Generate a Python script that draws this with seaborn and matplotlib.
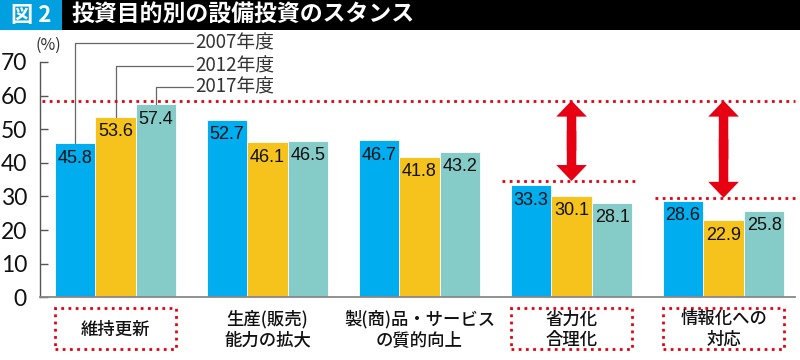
import matplotlib
matplotlib.use("Agg")
import matplotlib.pyplot as plt
from matplotlib.patches import Rectangle, FancyArrowPatch
import matplotlib.transforms as mtrans
import seaborn as sns
import pandas as pd

# ---------------- data ----------------
categories = ['維持更新', '生産(販売)\n能力の拡大', '製(商)品・サービス\nの質的向上', '省力化\n合理化', '情報化への\n対応']
years = ['2007年度', '2012年度', '2017年度']
values_2007 = [45.8, 52.7, 46.7, 33.3, 28.6]
values_2012 = [53.6, 46.1, 41.8, 30.1, 22.9]
values_2017 = [57.4, 46.5, 43.2, 28.1, 25.8]
y_ticks = [0, 10, 20, 30, 40, 50, 60, 70]
title = '投資目的別の設備投資のスタンス'
fig_label = '図 2'
boxed_categories = [0, 3, 4]
top_level = 58.5          # upper red dotted reference level
gap_levels = [34.6, 29.6]  # lower red dotted reference levels (for cats 3, 4)
gap_categories = [3, 4]
legend_levels = [75.7, 68.8, 62.6]

colors = ['#00AEEF', '#F6C21C', '#85CBC8']
red = '#E60012'

rows = []
for yr, vals in zip(years, [values_2007, values_2012, values_2017]):
    for c, v in zip(categories, vals):
        rows.append({'category': c, 'year': yr, 'value': v})
df = pd.DataFrame(rows)

sns.set_style('ticks')
plt.rcParams['font.family'] = ['Noto Sans CJK JP', 'DejaVu Sans']

W, H = 800, 360
fig = plt.figure(figsize=(8, 3.6), dpi=100)
ax_left, ax_right = 39.5, 795.0
ax_bottom, ax_top = 297.3, 62.0
ax = fig.add_axes([ax_left / W, (H - ax_bottom) / H, (ax_right - ax_left) / W, (ax_bottom - ax_top) / H])

sns.barplot(data=df, x='category', y='value', hue='year', order=categories, hue_order=years,
            palette=colors, saturation=1, width=0.8, edgecolor='white', linewidth=0.6,
            ax=ax, legend=False)

ax.set_xlim(-0.5, 4.47)
ax.set_ylim(0, 70)
ax.set_yticks(y_ticks)
ax.set_xticks([])
ax.set_xlabel('')
ax.set_ylabel('')
for s in ['top', 'right']:
    ax.spines[s].set_visible(False)
ax.spines['left'].set_color('#555555')
ax.spines['left'].set_linewidth(1.0)
ax.spines['bottom'].set_color('#888888')
ax.spines['bottom'].set_linewidth(1.3)
ax.tick_params(axis='y', direction='in', length=6, width=1, color='#555555', pad=9)
for lab in ax.get_yticklabels():
    lab.set_fontfamily(['Lato', 'DejaVu Sans'])
    lab.set_fontsize(16.5)
    lab.set_color('#111111')

# value labels inside bar tops
for cont in ax.containers:
    for patch, val in zip(cont.patches, cont.datavalues):
        ax.annotate(f'{val:.1f}', (patch.get_x() + patch.get_width() / 2, patch.get_height()),
                    xytext=(0, -4.5), textcoords='offset points', ha='center', va='top',
                    fontsize=13, color='#111111',
                    family=['Liberation Sans', 'DejaVu Sans'])

# leader lines + legend labels
label_x = 0.51
for cont, yr, ly in zip(ax.containers, years, legend_levels):
    p = cont.patches[0]
    cx = p.get_x() + p.get_width() / 2
    ax.plot([cx, cx, label_x], [p.get_height(), ly, ly], color='#666666', lw=0.9, clip_on=False)
    ax.text(label_x + 0.015, ly, yr, ha='left', va='center', fontsize=13.5, color='#333333',
            clip_on=False)

ax.text(-0.005, 75.1, '(%)', transform=mtrans.blended_transform_factory(ax.transAxes, ax.transData),
        ha='left', va='center', fontsize=11.5, color='#333333', clip_on=False)

# red dotted reference lines
dot = (0, (1, 1.6))
ax.plot([-0.485, 4.47], [top_level, top_level], color=red, lw=2, ls=dot, clip_on=False)
ax.plot([2.54, 3.44], [gap_levels[0], gap_levels[0]], color=red, lw=2, ls=dot, clip_on=False)
ax.plot([3.55, 4.47], [gap_levels[1], gap_levels[1]], color=red, lw=2, ls=dot, clip_on=False)

# double-headed arrows (two single arrows from the middle, overlapping)
for cx, lv in zip(gap_categories, gap_levels):
    mid = (top_level + lv) / 2
    for end, start in ((top_level, mid - 3), (lv, mid + 3)):
        arr = FancyArrowPatch((cx, start), (cx, end),
                              arrowstyle='simple,head_length=1.15,head_width=2.2,tail_width=0.68',
                              mutation_scale=10, color=red, lw=0, shrinkA=0, shrinkB=0, clip_on=False)
        ax.add_patch(arr)

# category labels and boxes
xtrans = ax.get_xaxis_transform()
for i, c in enumerate(categories):
    ax.text(i, -0.137, c, transform=xtrans, ha='center', va='center', fontsize=12.5,
            fontweight='medium', color='#111111', linespacing=1.18, clip_on=False)
for i in boxed_categories:
    ax.add_patch(Rectangle((i - 0.4, -0.2197), 0.8, 0.1742, transform=xtrans, fill=False,
                           edgecolor=red, lw=2, ls=dot, clip_on=False))

# title band
fig.add_artist(Rectangle((0, 1 - 30 / H), 1, 30 / H, transform=fig.transFigure, color='black', lw=0))
fig.add_artist(Rectangle((0, 1 - 30 / H), 62 / W, 30 / H, transform=fig.transFigure, color='#00A0E0', lw=0))
fig.text(31 / W, 1 - 15.5 / H, fig_label, ha='center', va='center', color='white', fontsize=16,
         fontweight='bold')
fig.text(71 / W, 1 - 15.5 / H, title, ha='left', va='center', color='white', fontsize=16.5,
         fontweight='bold')

fig.savefig('out.png', dpi=100, facecolor='white')
